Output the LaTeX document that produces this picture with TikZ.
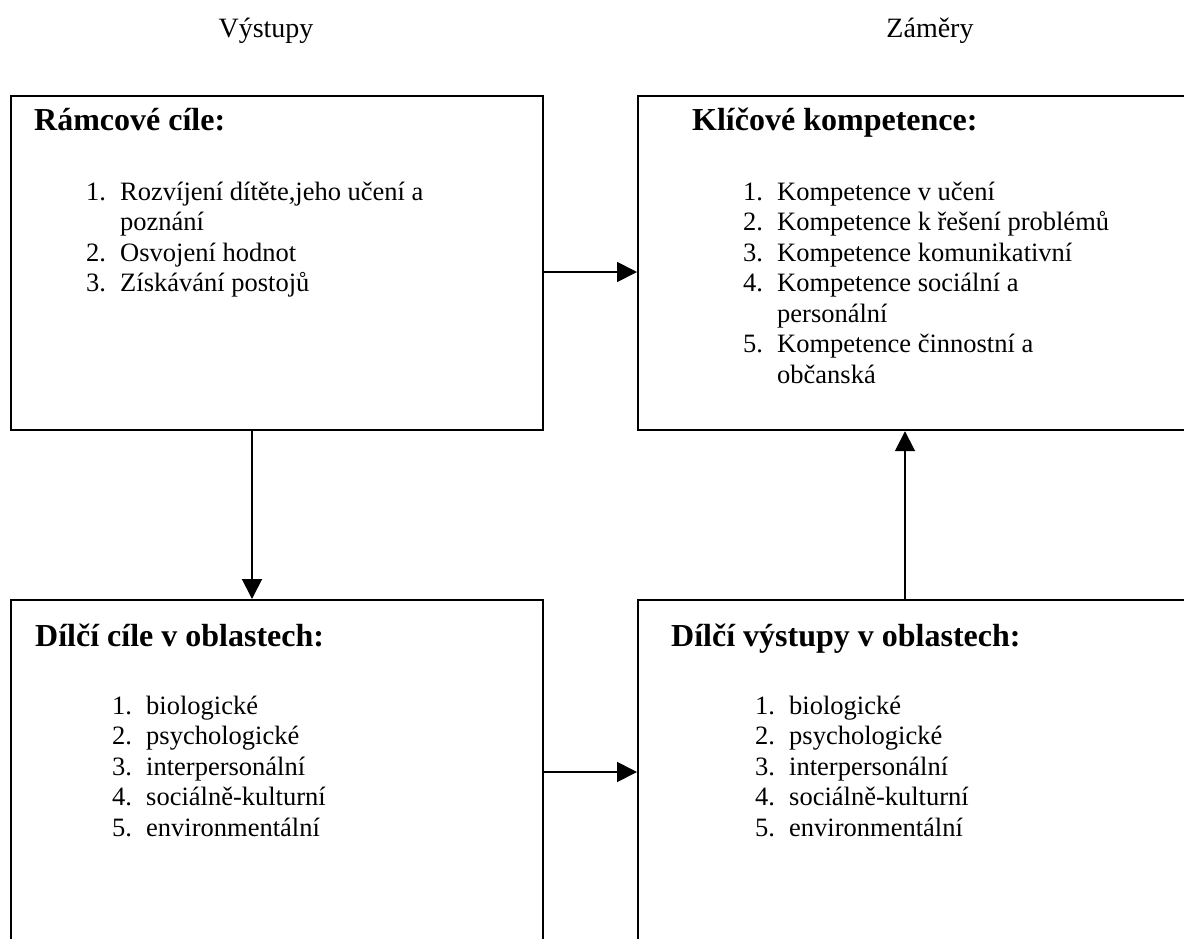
\documentclass[tikz,border=0pt]{standalone}
\usepackage{fontspec}
\setmainfont{Liberation Serif}
\usetikzlibrary{arrows.meta}

\newcommand{\seznam}[1]{\begin{tabular}[t]{@{}p{34pt}@{}l@{}}#1\end{tabular}}

\tikzset{
  ramec/.style={draw, line width=2.2pt, minimum width=532pt, minimum height=334pt, anchor=north west, inner sep=0pt},
  nadpis/.style={anchor=base west, inner sep=0pt, font=\bfseries\fontsize{32}{36}\selectfont},
  polozky/.style={anchor=base west, inner sep=0pt, font=\fontsize{26.5}{30.5}\selectfont},
  popis/.style={anchor=base, inner sep=0pt, font=\fontsize{28}{32}\selectfont},
  sipka/.style={-{Triangle[length=20pt,width=20pt]}, line width=1.8pt}
}

\begin{document}
\begin{tikzpicture}[x=1pt, y=-1pt]
    \useasboundingbox (0,0) rectangle (1184,938);
    \clip (0,0) rectangle (1184,938);

    % záhlaví sloupců
    \node[popis] (vystupy) at (266,37) {Výstupy};
    \node[popis] (zamery) at (930,37) {Záměry};

    % rámečky
    \node[ramec] (ramcove) at (10,95) {};
    \node[ramec, minimum width=570pt] (klicove) at (637,95) {};
    \node[ramec, minimum height=370pt] (dilciCile) at (10,599) {};
    \node[ramec, minimum width=570pt, minimum height=370pt] (dilciVystupy) at (637,599) {};

    % nadpisy
    \node[nadpis] (hRamcove) at (34,130) {Rámcové cíle:};
    \node[nadpis] (hKlicove) at (692,130) {Klíčové kompetence:};
    \node[nadpis] (hDilciCile) at (35,646) {Dílčí cíle v oblastech:};
    \node[nadpis] (hDilciVystupy) at (671,646) {Dílčí výstupy v oblastech:};

    % seznamy
    \node[polozky] (sRamcove) at (86,200) {\seznam{
        1. & Rozvíjení dítěte,jeho učení a \\
           & poznání \\
        2. & Osvojení hodnot \\
        3. & Získávání postojů}};
    \node[polozky] (sKlicove) at (743,200) {\seznam{
        1. & Kompetence v učení \\
        2. & Kompetence k řešení problémů \\
        3. & Kompetence komunikativní \\
        4. & Kompetence sociální a \\
           & personální \\
        5. & Kompetence činnostní a \\
           & občanská}};
    \node[polozky] (sDilciCile) at (112,714) {\seznam{
        1. & biologické \\
        2. & psychologické \\
        3. & interpersonální \\
        4. & sociálně-kulturní \\
        5. & environmentální}};
    \node[polozky] (sDilciVystupy) at (755,714) {\seznam{
        1. & biologické \\
        2. & psychologické \\
        3. & interpersonální \\
        4. & sociálně-kulturní \\
        5. & environmentální}};

    % šipky
    \draw[sipka] (ramcove.east |- 0,272) -- (klicove.west |- 0,272);
    \draw[sipka] (dilciCile.east |- 0,772) -- (dilciVystupy.west |- 0,772);
    \draw[sipka] (ramcove.south -| 252,0) -- (dilciCile.north -| 252,0);
    \draw[sipka] (dilciVystupy.north -| 905,0) -- (klicove.south -| 905,0);
\end{tikzpicture}
\end{document}
